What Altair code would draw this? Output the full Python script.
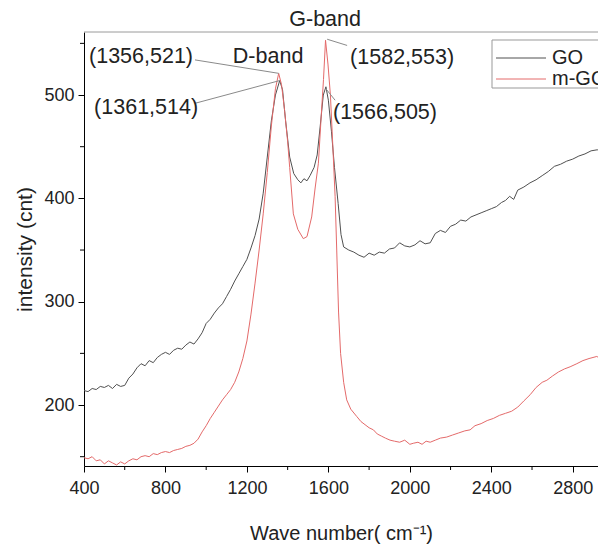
import altair as alt
import pandas as pd

# ---- spectra ----
go_x = [400, 420, 440, 460, 480, 500, 520, 540, 560, 580, 600, 620, 640, 660, 680, 700, 720, 740, 760, 780,
        800, 820, 840, 860, 880, 900, 920, 940, 960, 980, 1000, 1020, 1040, 1060, 1080, 1100, 1120, 1140, 1160,
        1180, 1200, 1220, 1240, 1260, 1280, 1300, 1320, 1340, 1361, 1375, 1390, 1410, 1430, 1450, 1465, 1480,
        1495, 1510, 1530, 1545, 1560, 1575, 1588, 1600, 1615, 1630, 1648, 1662, 1675, 1700, 1725, 1750, 1775,
        1800, 1825, 1850, 1875, 1900, 1925, 1950, 1975, 2000, 2025, 2050, 2075, 2100, 2125, 2150, 2175, 2200,
        2225, 2250, 2275, 2300, 2325, 2350, 2375, 2400, 2425, 2450, 2470, 2490, 2510, 2530, 2560, 2590, 2620,
        2650, 2680, 2710, 2740, 2770, 2800, 2830, 2860, 2890, 2920, 2945, 2964]
go_y = [214, 213, 216, 215, 218, 217, 219, 216, 220, 218, 219, 226, 230, 236, 240, 238, 243, 241, 246, 249,
        251, 249, 253, 255, 254, 258, 261, 259, 264, 270, 279, 283, 289, 294, 298, 305, 312, 320, 327,
        334, 341, 352, 364, 380, 405, 440, 475, 500, 514, 505, 475, 440, 424, 418, 415, 419,
        417, 422, 430, 442, 470, 500, 508, 495, 465, 430, 395, 365, 353, 350, 348, 345, 343,
        347, 345, 348, 347, 351, 352, 357, 354, 353, 355, 359, 356, 357, 366, 369, 367, 373,
        375, 379, 378, 382, 384, 386, 388, 390, 392, 396, 398, 402, 399, 408, 411, 415, 418,
        422, 426, 431, 433, 436, 438, 441, 443, 446, 447, 446, 444]

mgo_x = [400, 420, 440, 460, 480, 500, 520, 540, 560, 580, 600, 620, 640, 660, 680, 700, 720, 740, 760, 780,
         800, 820, 840, 860, 880, 900, 920, 940, 960, 980, 1000, 1020, 1040, 1060, 1080, 1100, 1120, 1140, 1160,
         1180, 1200, 1220, 1240, 1260, 1280, 1300, 1320, 1340, 1356, 1370, 1385, 1400, 1410, 1428, 1450, 1477,
         1495, 1518, 1535, 1551, 1565, 1576, 1586, 1598, 1610, 1622, 1633, 1641, 1650, 1660, 1675, 1690, 1710,
         1739, 1760, 1780, 1800, 1821, 1840, 1860, 1880, 1903, 1925, 1950, 1975, 2000, 2017, 2040, 2060, 2080,
         2100, 2125, 2150, 2181, 2210, 2240, 2270, 2296, 2320, 2350, 2380, 2410, 2440, 2470, 2500, 2530, 2560,
         2591, 2620, 2650, 2673, 2700, 2730, 2760, 2787, 2820, 2850, 2880, 2918, 2945, 2964]
mgo_y = [149, 148, 150, 146, 147, 143, 146, 144, 142, 145, 143, 146, 148, 147, 150, 151, 150, 153, 152, 154,
         155, 154, 156, 157, 158, 160, 161, 163, 167, 174, 180, 187, 193, 199, 205, 210, 215, 222, 232,
         245, 262, 288, 318, 350, 385, 425, 470, 506, 521, 510, 485, 455, 430, 385, 370, 361,
         363, 382, 410, 434, 480, 515, 553, 530, 500, 450, 402, 350, 290, 250, 222, 205, 196,
         189, 184, 181, 178, 176, 172, 170, 168, 166, 165, 164, 166, 162, 163, 164, 162, 165,
         164, 166, 168, 169, 171, 173, 175, 176, 180, 182, 185, 187, 190, 192, 194, 198, 204,
         210, 217, 222, 224, 228, 232, 235, 237, 240, 243, 245, 247, 244, 241]

series_names = ["GO", "m-GO"]
series_colors = ["#505050", "#e46a6a"]

# ---- annotations ----
ann_text = ["G-band", "D-band", "(1356,521)", "(1361,514)", "(1582,553)", "(1566,505)"]
ann_x = [1584, 1304, 680, 705, 1962, 1878]
ann_y = [573, 537, 537, 487, 536, 483]

lead_x = [945, 945, 1692, 1633]
lead_y = [534, 492, 548, 495]
lead_x2 = [1356, 1361, 1594, 1588]
lead_y2 = [521, 514, 554, 506]

x_major = [400, 800, 1200, 1600, 2000, 2400, 2800]
x_minor = [600, 1000, 1400, 1800, 2200, 2600]
y_major = [200, 300, 400, 500]
y_minor = [150, 250, 350, 450, 550]

W, H = 514, 434
X_DOMAIN = [400, 2924]
Y_DOMAIN = [141, 561]
FONT = "Liberation Sans"

# legend layout (pixels, relative to plot origin)
LEG_BOX = (408, 8, 560, 56)
LEG_ROW_Y = [26, 47]

df = pd.concat([
    pd.DataFrame({"wn": go_x, "val": go_y, "s": "GO", "o": range(len(go_x))}),
    pd.DataFrame({"wn": mgo_x, "val": mgo_y, "s": "m-GO", "o": range(len(mgo_x))}),
])

xs = alt.Scale(domain=X_DOMAIN, nice=False, zero=False)
ys = alt.Scale(domain=Y_DOMAIN, nice=False, zero=False)
cs = alt.Scale(domain=series_names, range=series_colors)

lines = alt.Chart(df).mark_line(strokeWidth=1, clip=True).encode(
    x=alt.X("wn:Q", scale=xs, axis=alt.Axis(
        values=x_major, format="d", grid=False, tickSize=6, labelFontSize=18, labelPadding=7,
        domainColor="#000", tickColor="#000", labelColor="#222", labelFlush=False,
        title="Wave number( cm⁻¹)", titleFontSize=20, titleFontWeight="normal",
        titleColor="#222", titleY=67, titleBaseline="middle")),
    y=alt.Y("val:Q", scale=ys, axis=alt.Axis(
        values=y_major, format="d", grid=False, tickSize=6, labelFontSize=18, labelPadding=4,
        domainColor="#000", tickColor="#000", labelColor="#222",
        title="intensity (cnt)", titleFontSize=21, titleFontWeight="normal",
        titleColor="#222", titleX=-59, titleY=217, titleBaseline="middle")),
    color=alt.Color("s:N", scale=cs, legend=None),
    order="o:Q",
)

ann_df = pd.DataFrame({"t": ann_text, "x": ann_x, "y": ann_y})
texts = alt.Chart(ann_df).mark_text(fontSize=21.5, color="#222", font=FONT).encode(
    x=alt.X("x:Q", scale=xs), y=alt.Y("y:Q", scale=ys), text="t:N")

lead_df = pd.DataFrame({"x": lead_x, "y": lead_y, "x2": lead_x2, "y2": lead_y2})
leads = alt.Chart(lead_df).mark_rule(color="#8a8a8a", strokeWidth=1).encode(
    x=alt.X("x:Q", scale=xs), y=alt.Y("y:Q", scale=ys), x2="x2:Q", y2="y2:Q")

xminor = alt.Chart(pd.DataFrame({"v": x_minor})).mark_rule(color="#000").encode(
    x=alt.X("v:Q", scale=xs), y=alt.value(H), y2=alt.value(H + 4))
yminor = alt.Chart(pd.DataFrame({"v": y_minor})).mark_rule(color="#000").encode(
    y=alt.Y("v:Q", scale=ys), x=alt.value(0), x2=alt.value(-4))
topline = alt.Chart(pd.DataFrame({"v": [0]})).mark_rule(color="#9a9a9a").encode(
    y=alt.value(0), x=alt.value(0), x2=alt.value(W))

# manual legend
leg_df = pd.DataFrame({"s": series_names, "ry": LEG_ROW_Y})
leg_box = alt.Chart(pd.DataFrame({"v": [0]})).mark_rect(
    fill="white", stroke="#999", strokeWidth=1).encode(
    x=alt.value(LEG_BOX[0]), y=alt.value(LEG_BOX[1]),
    x2=alt.value(LEG_BOX[2]), y2=alt.value(LEG_BOX[3]))
leg_lines = alt.Chart(leg_df).mark_rule(strokeWidth=1).encode(
    x=alt.value(LEG_BOX[0] + 4), x2=alt.value(LEG_BOX[0] + 54),
    y=alt.Y("ry:Q", scale=None), color=alt.Color("s:N", scale=cs, legend=None))
leg_text = alt.Chart(leg_df).mark_text(
    align="left", baseline="middle", fontSize=20, color="#222", font=FONT).encode(
    x=alt.value(LEG_BOX[0] + 60), y=alt.Y("ry:Q", scale=None), text="s:N")

chart = alt.layer(lines, leads, texts, xminor, yminor, topline,
                  leg_box, leg_lines, leg_text).properties(
    width=W, height=H, autosize="none",
    padding={"left": 76, "top": 24, "right": 0, "bottom": 78},
).configure(font=FONT).configure_view(stroke=None)

chart.save("out.html", embed_options={"renderer": "svg", "actions": False})
